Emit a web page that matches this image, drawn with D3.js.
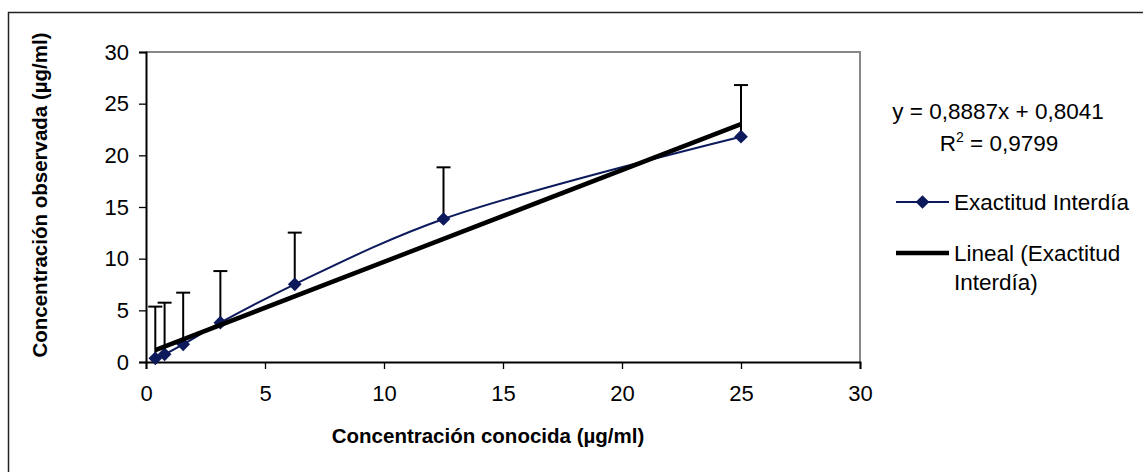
<!DOCTYPE html>
<html>
<head>
<meta charset="utf-8">
<script src="https://cdn.jsdelivr.net/npm/d3@7"></script>
<style>
  html, body { margin: 0; padding: 0; background: #fff; }
  svg { display: block; }
  text { font-family: "Liberation Sans", Arial, sans-serif; fill: #000; }
</style>
</head>
<body>
<svg id="chart" width="1143" height="472"></svg>
<script>
// Known concentration (µg/ml) and observed concentration (µg/ml)
const knownConc = [0.390625, 0.78125, 1.5625, 3.125, 6.25, 12.5, 25];
const observedConc = [0.36, 0.74, 1.71, 3.80, 7.52, 13.84, 21.80];
const errorPlus = [5, 5, 5, 5, 5, 5, 5];
const xTicks = [0, 5, 10, 15, 20, 25, 30];
const yTicks = [0, 5, 10, 15, 20, 25, 30];
const trendSlope = 0.8887;
const trendIntercept = 0.8041;
const equationLabel = "y = 0,8887x + 0,8041";
const r2Value = "0,9799";
const seriesName = "Exactitud Interdía";
const trendNameLines = ["Lineal (Exactitud", "Interdía)"];
const xTitle = "Concentración conocida (µg/ml)";
const yTitle = "Concentración observada (µg/ml)";

const svg = d3.select("#chart");
const navy = "#0c1a5c";

// outer chart frame
svg.append("rect")
  .attr("x", 8.5).attr("y", 12.5)
  .attr("width", 1160).attr("height", 480)
  .attr("fill", "none").attr("stroke", "#222").attr("stroke-width", 1.5);

const plot = { left: 146, right: 860, top: 52, bottom: 362 };
const x = d3.scaleLinear().domain([0, 30]).range([plot.left, plot.right]);
const y = d3.scaleLinear().domain([0, 30]).range([plot.bottom, plot.top]);

// plot area border (top / right in grey)
svg.append("path")
  .attr("d", `M${plot.left},${plot.top}H${plot.right}V${plot.bottom}`)
  .attr("fill", "none").attr("stroke", "#888").attr("stroke-width", 2);

// axes
const xAxis = svg.append("g")
  .attr("transform", `translate(0,${plot.bottom})`)
  .call(d3.axisBottom(x).tickValues(xTicks).tickSize(7).tickPadding(16).tickFormat(d3.format("d")));
const yAxis = svg.append("g")
  .attr("transform", `translate(${plot.left},0)`)
  .call(d3.axisLeft(y).tickValues(yTicks).tickSize(7).tickPadding(10).tickFormat(d3.format("d")));
[xAxis, yAxis].forEach(g => {
  g.select(".domain").attr("stroke", "#000").attr("stroke-width", 2);
  g.selectAll(".tick line").attr("stroke", "#000").attr("stroke-width", 1.3);
  g.selectAll(".tick text")
    .style("font-family", '"Liberation Sans", Arial, sans-serif')
    .style("font-size", "22px").attr("fill", "#000");
});

// axis titles
svg.append("text")
  .attr("x", 488).attr("y", 443)
  .attr("text-anchor", "middle")
  .style("font-size", "20.5px").style("font-weight", "bold")
  .text(xTitle);
svg.append("text")
  .attr("transform", "translate(47,195) rotate(-90)")
  .attr("text-anchor", "middle")
  .style("font-size", "20.5px").style("font-weight", "bold")
  .text(yTitle);

const pts = knownConc.map((k, i) => ({ x: k, y: observedConc[i], e: errorPlus[i] }));

// positive error bars
const eb = svg.append("g").attr("stroke", "#000").attr("stroke-width", 2);
eb.selectAll("line.v").data(pts).enter().append("line")
  .attr("x1", d => x(d.x)).attr("x2", d => x(d.x))
  .attr("y1", d => y(d.y)).attr("y2", d => y(d.y + d.e));
eb.selectAll("line.c").data(pts).enter().append("line")
  .attr("x1", d => x(d.x) - 7).attr("x2", d => x(d.x) + 7)
  .attr("y1", d => y(d.y + d.e)).attr("y2", d => y(d.y + d.e));

// smoothed data series
const smooth = d3.line().x(d => x(d.x)).y(d => y(d.y)).curve(d3.curveCatmullRom.alpha(0.5));
svg.append("path").datum(pts)
  .attr("d", smooth)
  .attr("fill", "none").attr("stroke", navy).attr("stroke-width", 2);

const diamond = d3.symbol().type(d3.symbolDiamond2).size(120);
svg.selectAll("path.marker").data(pts).enter().append("path")
  .attr("class", "marker")
  .attr("transform", d => `translate(${x(d.x)},${y(d.y)})`)
  .attr("d", diamond)
  .attr("fill", navy);

// linear trendline
const xMin = d3.min(knownConc), xMax = d3.max(knownConc);
const trend = [xMin, xMax].map(v => ({ x: v, y: trendSlope * v + trendIntercept }));
svg.append("path").datum(trend)
  .attr("d", d3.line().x(d => x(d.x)).y(d => y(d.y)))
  .attr("fill", "none").attr("stroke", "#000").attr("stroke-width", 4.5);

// equation and R²
svg.append("text")
  .attr("x", 998).attr("y", 119)
  .attr("text-anchor", "middle")
  .style("font-size", "22.5px")
  .text(equationLabel);
const r2 = svg.append("text")
  .attr("x", 999).attr("y", 151)
  .attr("text-anchor", "middle")
  .style("font-size", "22.5px");
r2.append("tspan").text("R");
r2.append("tspan").attr("dy", -9).style("font-size", "14px").text("2");
r2.append("tspan").attr("dy", 9).text(" = " + r2Value);

// legend
const lg = svg.append("g");
lg.append("line").attr("x1", 896).attr("x2", 949).attr("y1", 202).attr("y2", 202)
  .attr("stroke", navy).attr("stroke-width", 2);
lg.append("path").attr("transform", "translate(922.5,202)").attr("d", diamond).attr("fill", navy);
lg.append("text").attr("x", 954).attr("y", 210).style("font-size", "22.5px").text(seriesName);
lg.append("line").attr("x1", 896).attr("x2", 949).attr("y1", 253).attr("y2", 253)
  .attr("stroke", "#000").attr("stroke-width", 4.5);
lg.append("text").attr("x", 954).attr("y", 261).style("font-size", "22.5px").text(trendNameLines[0]);
lg.append("text").attr("x", 954).attr("y", 290).style("font-size", "22.5px").text(trendNameLines[1]);
</script>
</body>
</html>
